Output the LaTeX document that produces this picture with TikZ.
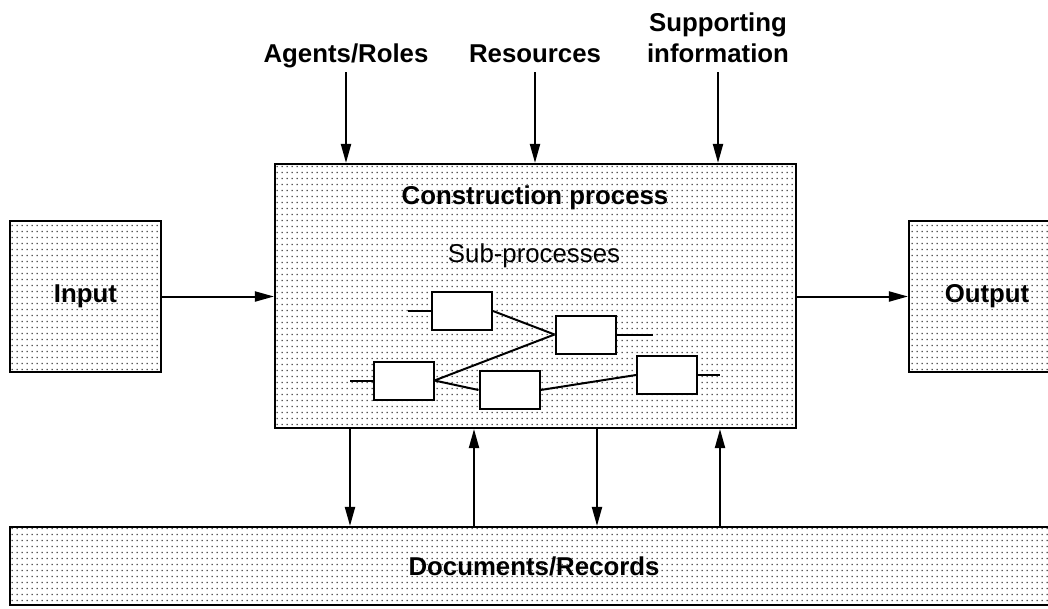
\documentclass[tikz,border=0pt]{standalone}
\usepackage{fontspec}
\setmainfont{Liberation Sans}
\usetikzlibrary{arrows.meta,patterns.meta}
\tikzdeclarepattern{
  name=rowdots,
  tile size={(5pt,5.5pt)},
  bounding box={(0pt,0pt) and (5pt,5.5pt)},
  code={\pgfpathrectangle{\pgfpoint{1.9pt}{2.1pt}}{\pgfpoint{1.3pt}{1.2pt}}\pgfusepath{fill}}
}
\begin{document}
\begin{tikzpicture}[x=1pt,y=-1pt,
  dotbox/.style={draw, line width=2.1pt, pattern=rowdots, pattern color=black, inner sep=0pt},
  subbox/.style={draw, fill=white, line width=2pt, minimum width=60pt, minimum height=38pt, inner sep=0pt},
  lbl/.style={font=\fontsize{25.8}{31}\selectfont\bfseries, inner sep=0pt, align=center},
  txt/.style={font=\fontsize{25.8}{31}\selectfont, inner sep=0pt},
  arr/.style={line width=2pt, -{Triangle[length=19pt,width=10pt]}},
  conn/.style={line width=2pt}
]
\useasboundingbox (0,0) rectangle (1048,608);
\clip (0,0) rectangle (1048,608);

% main boxes
\node[dotbox, minimum width=151pt, minimum height=151pt, lbl] (input) at (85.5,296.5) {Input};
\node[dotbox, minimum width=156pt, minimum height=151pt, lbl] (output) at (987,296.5) {Output};
\node[dotbox, minimum width=521pt, minimum height=264pt] (proc) at (535.5,296) {};
\node[dotbox, minimum width=1048pt, minimum height=78pt, lbl] (docs) at (534,566) {Documents/Records};

\node[lbl, anchor=base] (ptitle) at (535,204) {Construction process};
\node[txt, anchor=base] (psub) at (534,262) {Sub-processes};

% top labels
\node[lbl, anchor=base] (agents) at (346,62) {Agents/Roles};
\node[lbl, anchor=base] (res) at (535,62) {Resources};
\node[lbl, anchor=base] (supp) at (718,62) {information};
\node[lbl, anchor=base] (supp1) at (718,31) {Supporting};

\coordinate (ta) at (346,72);
\coordinate (tr) at (535,72);
\coordinate (ts) at (718,72);
\draw[arr] (ta) -- (ta |- proc.north);
\draw[arr] (tr) -- (tr |- proc.north);
\draw[arr] (ts) -- (ts |- proc.north);

% side arrows
\draw[arr] (input.east) -- (input.east -| proc.west);
\draw[arr] (proc.east |- output.west) -- (output.west);

% bottom arrows
\coordinate (b1) at (350,0);
\coordinate (b2) at (474,0);
\coordinate (b3) at (597,0);
\coordinate (b4) at (720,0);
\draw[arr] (b1 |- proc.south) -- (b1 |- docs.north);
\draw[arr] (b2 |- docs.north) -- (b2 |- proc.south);
\draw[arr] (b3 |- proc.south) -- (b3 |- docs.north);
\draw[arr] (b4 |- docs.north) -- (b4 |- proc.south);

% sub-processes
\node[subbox] (sa) at (462,311) {};
\node[subbox] (sb) at (585.5,334.5) {};
\node[subbox] (sc) at (403.5,380.5) {};
\node[subbox] (sd) at (509.5,390) {};
\node[subbox] (se) at (667,375) {};

\coordinate (ina) at (408,311);
\coordinate (inc) at (350,380.5);
\coordinate (outb) at (653,334.5);
\coordinate (oute) at (720,375);

\draw[conn] (ina) -- (sa.west);
\draw[conn] (inc) -- (sc.west);
\draw[conn] (sb.east) -- (outb);
\draw[conn] (se.east) -- (oute);
\draw[conn] (sa.east) -- (sb.west);
\draw[conn] (sc.east) -- (sb.west);
\draw[conn] (sc.east) -- (sd.west);
\draw[conn] (sd.east) -- (se.west);
\end{tikzpicture}
\end{document}
